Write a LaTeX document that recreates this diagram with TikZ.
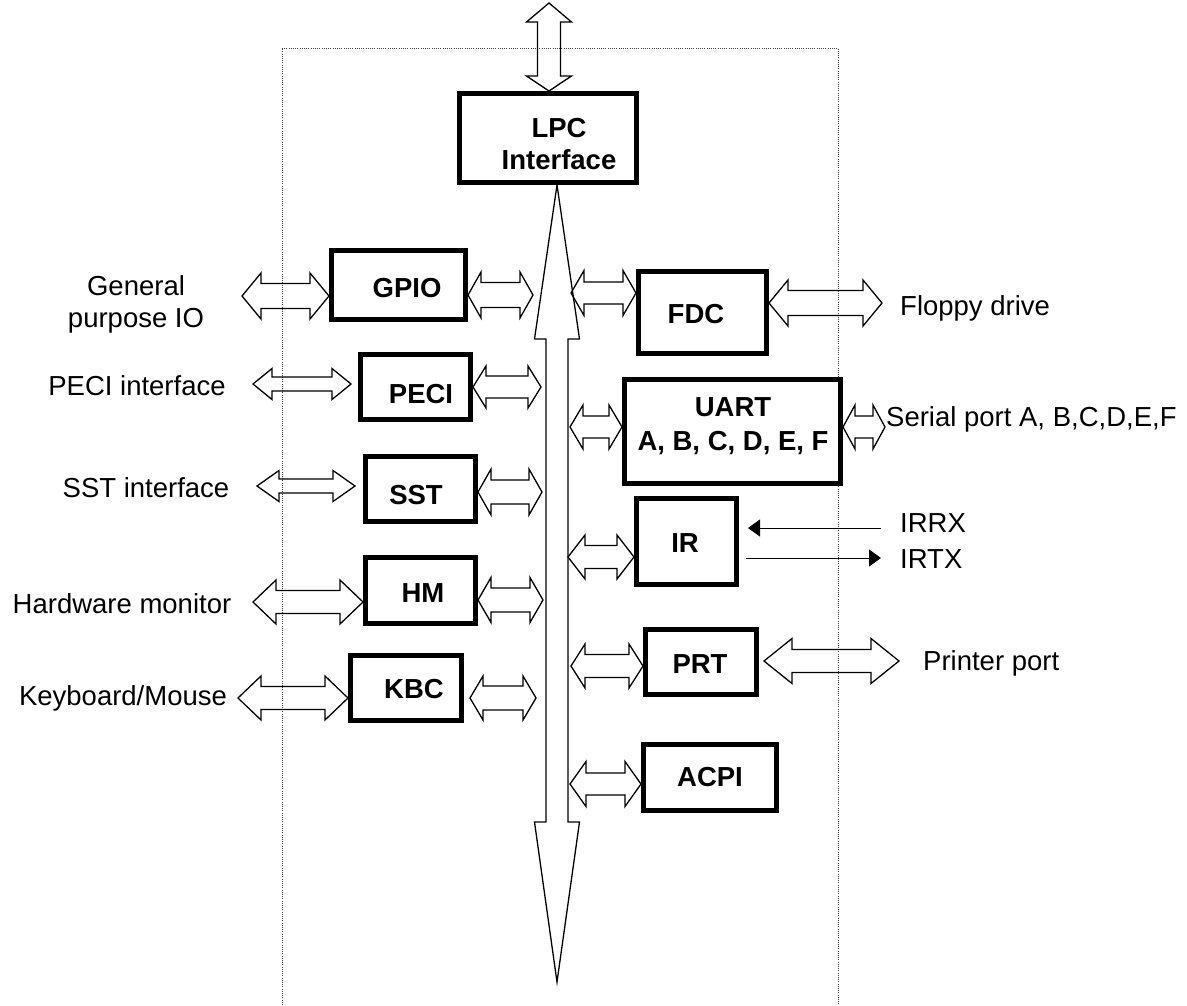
\documentclass[tikz,border=0pt]{standalone}
\usepackage{fontspec}
\setmainfont{Liberation Sans}
\usetikzlibrary{calc,arrows.meta}
% horizontal hollow double arrow from #1 (left tip) to #2 (right tip); #3 head length, #4 head half-height, #5 shaft half-height
\newcommand\dblarr[5]{%
  \draw[hollowarrow] let \p1=(#1), \p2=(#2) in
    (\x1,\y1) -- (\x1+#3pt,\y1+#4pt) -- (\x1+#3pt,\y1+#5pt) -- (\x2-#3pt,\y1+#5pt)
    -- (\x2-#3pt,\y1+#4pt) -- (\x2,\y1) -- (\x2-#3pt,\y1-#4pt) -- (\x2-#3pt,\y1-#5pt)
    -- (\x1+#3pt,\y1-#5pt) -- (\x1+#3pt,\y1-#4pt) -- cycle;}
\tikzset{
  blk/.style={draw, line width=5pt, inner sep=0pt},
  btxt/.style={font=\fontsize{27.5}{32}\selectfont\bfseries, inner sep=0pt},
  ltxt/.style={font=\fontsize{27.5}{32}\selectfont, inner sep=0pt},
  hollowarrow/.style={line width=1.3pt, line join=miter},
  frame/.style={line width=1pt, black!75, dash pattern=on 1pt off 1.2pt},
  sig/.style={line width=1pt, -{Triangle[length=12pt,width=17pt]}}
}
\begin{document}
\begin{tikzpicture}[x=1pt,y=-1pt]
\useasboundingbox (0,0) rectangle (1187,1005);
% dotted chip outline
\draw[frame] (282,1005) -- (282,48) -- (838,48) -- (838,1005);

% blocks
\node[blk, minimum width=177pt, minimum height=89pt] (lpc) at (548,138) {};
\node[blk, minimum width=134pt, minimum height=69pt] (gpio) at (398.5,285) {};
\node[blk, minimum width=110pt, minimum height=65pt] (peci) at (415.5,387) {};
\node[blk, minimum width=110pt, minimum height=65pt] (sst) at (420.5,489) {};
\node[blk, minimum width=110pt, minimum height=66pt] (hm) at (420.5,590.5) {};
\node[blk, minimum width=111pt, minimum height=65pt] (kbc) at (406,688) {};
\node[blk, minimum width=128pt, minimum height=82pt] (fdc) at (702.5,312.5) {};
\node[blk, minimum width=216pt, minimum height=104pt] (uart) at (732.5,431.5) {};
\node[blk, minimum width=100pt, minimum height=86pt] (ir) at (686.5,541.5) {};
\node[blk, minimum width=111pt, minimum height=65pt] (prt) at (701,662) {};
\node[blk, minimum width=133pt, minimum height=66pt] (acpi) at (710,777.5) {};

% block labels
\node[btxt, align=center] (lpct) at (559,144) {LPC\\Interface};
\node[btxt, anchor=base] (gpiot) at (407,297) {GPIO};
\node[btxt, anchor=base] (pecit) at (421,403) {PECI};
\node[btxt, anchor=base] (sstt) at (416,504) {SST};
\node[btxt, anchor=base] (hmt) at (423,602) {HM};
\node[btxt, anchor=base] (kbct) at (414,698) {KBC};
\node[btxt, anchor=base] (fdct) at (696,323) {FDC};
\node[btxt, align=center] (uartt) at (733,426) {UART\\[2pt]A, B, C, D, E, F};
\node[btxt, anchor=base] (irt) at (685,552) {IR};
\node[btxt, anchor=base] (prtt) at (700,673) {PRT};
\node[btxt, anchor=base] (acpit) at (710,786) {ACPI};

% outside labels
\node[ltxt, align=center] (gpl) at (136,304) {General\\purpose IO};
\node[ltxt, anchor=base] (pecil) at (137,395) {PECI interface};
\node[ltxt, anchor=base] (sstl) at (146,497) {SST interface};
\node[ltxt, anchor=base] (hml) at (122,613) {Hardware monitor};
\node[ltxt, anchor=base] (kbcl) at (123,705) {Keyboard/Mouse};
\node[ltxt, anchor=base west] (fdcl) at (900,315) {Floppy drive};
\node[ltxt, anchor=base west] (uartl) at (886,426) {Serial port A, B,C,D,E,F};
\node[ltxt, anchor=base west] (irrx) at (900,532) {IRRX};
\node[ltxt, anchor=base west] (irtx) at (900,568) {IRTX};
\node[ltxt, anchor=base west] (prtl) at (923,670) {Printer port};

% host LPC bus arrow (top)
\coordinate (lpcX) at (549,3);
\draw[hollowarrow] let \p1=(lpcX), \p2=(lpcX |- lpc.north) in
  (\x1,\y1) -- (\x1+22.5pt,\y1-19pt) -- (\x1+11.5pt,\y1-19pt) -- (\x1+11.5pt,\y2+15pt)
  -- (\x1+22.5pt,\y2+15pt) -- (\x2,\y2) -- (\x1-22.5pt,\y2+15pt) -- (\x1-11.5pt,\y2+15pt)
  -- (\x1-11.5pt,\y1-19pt) -- (\x1-22.5pt,\y1-19pt) -- cycle;

% internal bus
\coordinate (busTop) at (557,185);
\coordinate (busBot) at (557,982);
\draw[hollowarrow] let \p1=(busTop), \p2=(busBot) in
  (\x1,\y1) -- (\x1+22.5pt,\y1-154pt) -- (\x1+11pt,\y1-154pt) -- (\x1+11pt,\y2+160pt)
  -- (\x1+22.5pt,\y2+160pt) -- (\x2,\y2) -- (\x1-22.5pt,\y2+160pt) -- (\x1-11pt,\y2+160pt)
  -- (\x1-11pt,\y1-154pt) -- (\x1-22.5pt,\y1-154pt) -- cycle;

% connector end points
\coordinate (gpioX) at (242,296);
\coordinate (gpioB) at (533,295);
\coordinate (peciX) at (253,384);
\coordinate (peciB) at (541,387);
\coordinate (sstX) at (257,486);
\coordinate (sstB) at (542,492);
\coordinate (hmX) at (253,602);
\coordinate (hmB) at (543,600);
\coordinate (kbcX) at (238,698);
\coordinate (kbcB) at (536,698);
\coordinate (fdcB) at (571,293);
\coordinate (fdcX) at (882,303);
\coordinate (uartB) at (570,427);
\coordinate (uartX) at (885,427);
\coordinate (irB) at (568,557);
\coordinate (prtB) at (571,666);
\coordinate (prtX) at (899,661);
\coordinate (acpiB) at (570,784);

% double arrows
\dblarr{gpioX}{gpio.west |- gpioX}{19}{23}{12.5}
\dblarr{gpio.east |- gpioB}{gpioB}{13}{23}{12.5}
\dblarr{peciX}{$(peci.west |- peciX)+(-7pt,0)$}{19}{15.5}{7}
\dblarr{peci.east |- peciB}{peciB}{13}{21}{11}
\dblarr{sstX}{$(sst.west |- sstX)+(-8pt,0)$}{22}{15.5}{7}
\dblarr{sst.east |- sstB}{sstB}{13}{23}{12}
\dblarr{hmX}{hm.west |- hmX}{23}{22}{11.5}
\dblarr{hm.east |- hmB}{hmB}{13}{22.5}{12}
\dblarr{kbcX}{kbc.west |- kbcX}{23}{22}{11.5}
\dblarr{$(kbc.east |- kbcB)+(6pt,0)$}{kbcB}{13}{22}{12}
\dblarr{fdcB}{fdc.west |- fdcB}{13}{22.5}{11}
\dblarr{fdc.east |- fdcX}{fdcX}{19}{23}{12.5}
\dblarr{uartB}{uart.west |- uartB}{13}{22}{11}
\dblarr{uart.east |- uartX}{uartX}{12}{22}{11}
\dblarr{irB}{ir.west |- irB}{17}{22}{11.5}
\dblarr{prtB}{prt.west |- prtB}{14}{22}{11.5}
\dblarr{$(prt.east |- prtX)+(5pt,0)$}{prtX}{28}{22.5}{11.5}
\dblarr{acpiB}{acpi.west |- acpiB}{16}{22.5}{11}

% IR signals
\coordinate (irrxS) at (881,528);
\coordinate (irtxE) at (881,558);
\draw[sig] (irrxS) -- ($(ir.east |- irrxS)+(9pt,0)$);
\draw[sig] ($(ir.east |- irtxE)+(7pt,0)$) -- (irtxE);
\end{tikzpicture}
\end{document}
